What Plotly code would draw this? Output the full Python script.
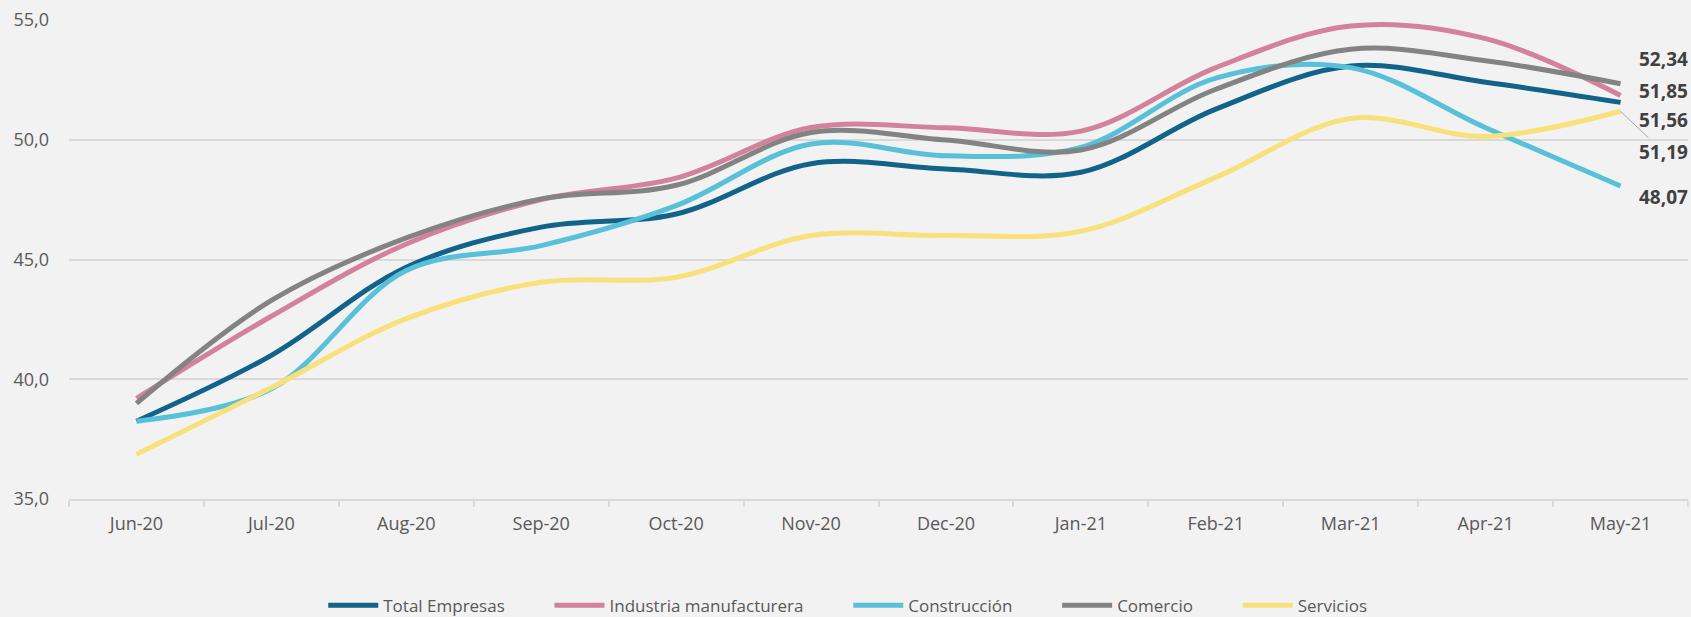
import plotly.graph_objects as go

months = ["Jun-20", "Jul-20", "Aug-20", "Sep-20", "Oct-20", "Nov-20",
          "Dec-20", "Jan-21", "Feb-21", "Mar-21", "Apr-21", "May-21"]

total_empresas = [38.25, 41.0, 44.68, 46.35, 46.9, 49.0, 48.78, 48.64, 51.28, 53.08, 52.4, 51.56]
industria = [39.2, 42.63, 45.65, 47.5, 48.4, 50.51, 50.5, 50.36, 53.01, 54.75, 54.22, 51.85]
construccion = [38.25, 39.6, 44.54, 45.58, 47.25, 49.82, 49.33, 49.68, 52.57, 53.01, 50.5, 48.07]
comercio = [38.99, 43.29, 45.9, 47.53, 48.1, 50.3, 49.99, 49.57, 52.11, 53.78, 53.3, 52.34]
servicios = [36.87, 39.65, 42.53, 44.05, 44.26, 46.0, 46.0, 46.18, 48.43, 50.89, 50.14, 51.19]

series_names = ["Total Empresas", "Industria manufacturera", "Construcción", "Comercio", "Servicios"]
series_values = [total_empresas, industria, construccion, comercio, servicios]
series_colors = ["#11638a", "#d4819b", "#58c0d8", "#838383", "#f8e07a"]

y_ticks = [35, 40, 45, 50, 55]

NBSP = "\u00a0"
fig = go.Figure()
for i, (name, vals, col) in enumerate(zip(series_names, series_values, series_colors)):
    pad = NBSP * 9 if i < len(series_names) - 1 else ""
    fig.add_trace(go.Scatter(
        x=months, y=vals, name=name + pad, mode="lines",
        line=dict(color=col, width=5, shape="spline", smoothing=1.0),
        hovertemplate=name + ": %{y:.2f}<extra>%{x}</extra>",
    ))

label_font = dict(family="Open Sans", size=19, color="#404040", weight="bold")

# end-of-line value labels: (series index, y shift)
label_specs = [(3, 25), (1, 4), (0, -18), (2, -11)]
for idx, ys in label_specs:
    v = series_values[idx][-1]
    fig.add_annotation(
        x=months[-1], y=v, xref="x", yref="y",
        text=f"{v:.2f}".replace(".", ","), showarrow=False,
        xanchor="right", xshift=69, yshift=ys, font=label_font,
    )
# Servicios label with leader line
v = servicios[-1]
fig.add_annotation(
    x=months[-1], y=v, xref="x", yref="y",
    text=f"{v:.2f}".replace(".", ","), showarrow=True,
    arrowhead=0, arrowwidth=1, arrowcolor="#a6a6a6", standoff=0,
    ax=43, ay=41, font=label_font,
)

fig.update_layout(
    width=1691, height=617,
    paper_bgcolor="#f2f2f2", plot_bgcolor="#f2f2f2",
    margin=dict(l=69, r=3, t=20, b=118, autoexpand=False),
    separators=",.",
    font=dict(family="Open Sans", color="#595959"),
    showlegend=True,
    legend=dict(
        orientation="h", x=0.481, xanchor="center", y=-0.223, yanchor="middle",
        font=dict(family="Open Sans", size=17, color="#595959"),
        itemwidth=50, traceorder="normal", bgcolor="rgba(0,0,0,0)",
    ),
    xaxis=dict(
        type="category", range=[-0.5, len(months) - 0.5], automargin=False,
        showgrid=False, showline=True, linecolor="#d9d9d9",
        linewidth=1.5, ticks="outside", tickson="boundaries", ticklen=6,
        tickcolor="#d9d9d9", tickwidth=1.5,
        tickfont=dict(family="Open Sans", size=18, color="#595959"),
        ticklabelstandoff=8, zeroline=False,
    ),
    yaxis=dict(
        range=[35, 55], tickvals=y_ticks, tickformat=".1f", automargin=False,
        showgrid=True, gridcolor="#d9d9d9", gridwidth=1.5,
        zeroline=False, showline=False, ticks="",
        tickfont=dict(family="Open Sans", size=18, color="#595959"),
        ticklabelstandoff=19,
    ),
)

fig.write_html(
    "out.html",
    config={"displayModeBar": False},
    post_script="document.body.style.margin='0';document.body.style.overflow='hidden';",
)
